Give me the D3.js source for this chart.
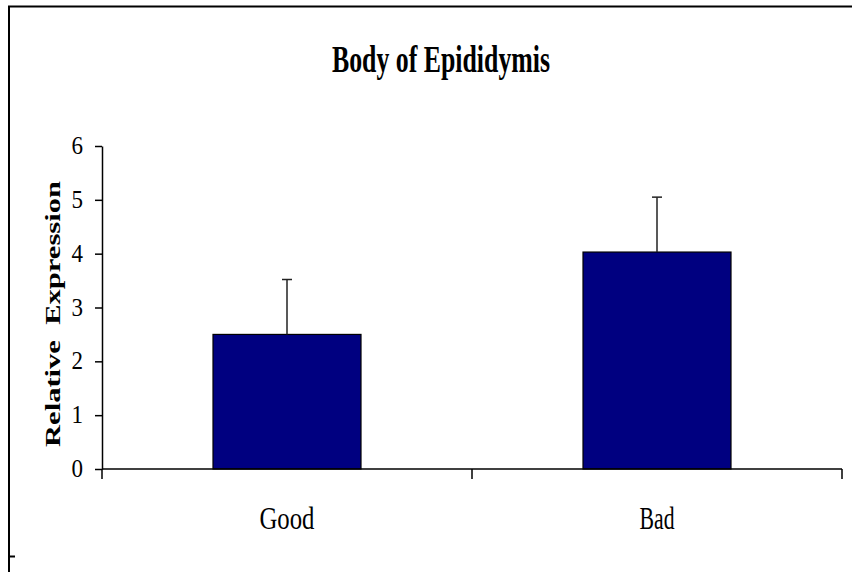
<!DOCTYPE html>
<html>
<head>
<meta charset="utf-8">
<script src="https://cdn.jsdelivr.net/npm/d3@7"></script>
<style>
  body { margin: 0; background: #fff; }
  svg { display: block; }
  text { font-family: "Liberation Serif", "Times New Roman", serif; fill: #000; }
</style>
</head>
<body>
<div id="chart"></div>
<script>
// values
const categories = ['Good', 'Bad'];
const expression = [2.5, 4.03];
const errors = [1.02, 1.02];
const yTicks = [0, 1, 2, 3, 4, 5, 6];

const width = 852, height = 572;
const margin = { top: 146, right: 10, bottom: 103, left: 102 };
const axisRight = 842;

const svg = d3.select('#chart')
  .append('svg')
  .attr('width', width)
  .attr('height', height);

// outer frame (left + top visible only)
svg.append('path')
  .attr('d', `M9,${height} L9,6.5 L${width + 5},6.5`)
  .attr('fill', 'none')
  .attr('stroke', '#000')
  .attr('stroke-width', 2);
svg.append('line')
  .attr('x1', 9).attr('x2', 15)
  .attr('y1', 556.5).attr('y2', 556.5)
  .attr('stroke', '#000')
  .attr('stroke-width', 2);

// scales
const x = d3.scaleBand()
  .domain(categories)
  .range([margin.left, axisRight])
  .padding(0);

const y = d3.scaleLinear()
  .domain([0, 6])
  .range([height - margin.bottom, margin.top]);

const barWidth = x.bandwidth() / 2.5;

// title
svg.append('text')
  .attr('x', 441)
  .attr('y', 72)
  .attr('text-anchor', 'middle')
  .attr('font-size', 37)
  .attr('font-weight', 'bold')
  .attr('textLength', 218)
  .attr('lengthAdjust', 'spacingAndGlyphs')
  .text('Body of Epididymis');

// y axis (line + ticks from d3, labels drawn separately)
const yAxis = svg.append('g')
  .attr('transform', `translate(${margin.left},0)`)
  .call(d3.axisLeft(y).tickValues(yTicks).tickFormat('')
    .tickSize(7).tickSizeOuter(0));
yAxis.select('.domain').attr('stroke', '#000').attr('stroke-width', 1.5);
yAxis.selectAll('.tick line').attr('stroke', '#000').attr('stroke-width', 1.5);

svg.selectAll('text.ylabel')
  .data(yTicks)
  .join('text')
  .attr('class', 'ylabel')
  .attr('x', margin.left - 19)
  .attr('y', (d) => y(d) + 8)
  .attr('text-anchor', 'end')
  .attr('font-size', 25)
  .attr('textLength', 11.5)
  .attr('lengthAdjust', 'spacingAndGlyphs')
  .text((d) => d);

svg.append('text')
  .attr('transform', `translate(60,314) rotate(-90)`)
  .attr('text-anchor', 'middle')
  .attr('font-size', 22)
  .attr('font-weight', 'bold')
  .attr('textLength', 266)
  .attr('lengthAdjust', 'spacingAndGlyphs')
  .style('white-space', 'pre')
  .text('Relative  Expression');

// bars
svg.selectAll('rect.bar')
  .data(categories)
  .join('rect')
  .attr('class', 'bar')
  .attr('x', (d) => x(d) + (x.bandwidth() - barWidth) / 2)
  .attr('y', (d, i) => y(expression[i]))
  .attr('width', barWidth)
  .attr('height', (d, i) => y(0) - y(expression[i]))
  .attr('fill', '#000080')
  .attr('stroke', '#000')
  .attr('stroke-width', 1.2);

// error bars (upper only)
const err = svg.selectAll('g.err')
  .data(categories)
  .join('g')
  .attr('class', 'err')
  .attr('stroke', '#222')
  .attr('stroke-width', 1.5);
err.append('line')
  .attr('x1', (d) => x(d) + x.bandwidth() / 2)
  .attr('x2', (d) => x(d) + x.bandwidth() / 2)
  .attr('y1', (d, i) => y(expression[i]))
  .attr('y2', (d, i) => y(expression[i] + errors[i]));
err.append('line')
  .attr('x1', (d) => x(d) + x.bandwidth() / 2 - 5)
  .attr('x2', (d) => x(d) + x.bandwidth() / 2 + 5)
  .attr('y1', (d, i) => y(expression[i] + errors[i]))
  .attr('y2', (d, i) => y(expression[i] + errors[i]));

// x axis: ticks sit on category boundaries
const x0 = y(0);
svg.append('line')
  .attr('x1', margin.left).attr('x2', axisRight)
  .attr('y1', x0).attr('y2', x0)
  .attr('stroke', '#000')
  .attr('stroke-width', 1.5);
const boundaries = categories.map((d) => x(d)).concat([axisRight]);
svg.selectAll('line.xtick')
  .data(boundaries)
  .join('line')
  .attr('class', 'xtick')
  .attr('x1', (d) => d).attr('x2', (d) => d)
  .attr('y1', x0).attr('y2', x0 + 10)
  .attr('stroke', '#000')
  .attr('stroke-width', 1.5);

const labelWidths = { Good: 55, Bad: 35 };
svg.selectAll('text.xlabel')
  .data(categories)
  .join('text')
  .attr('class', 'xlabel')
  .attr('x', (d) => x(d) + x.bandwidth() / 2)
  .attr('y', 529)
  .attr('text-anchor', 'middle')
  .attr('font-size', 32)
  .attr('textLength', (d) => labelWidths[d])
  .attr('lengthAdjust', 'spacingAndGlyphs')
  .text((d) => d);
</script>
</body>
</html>
